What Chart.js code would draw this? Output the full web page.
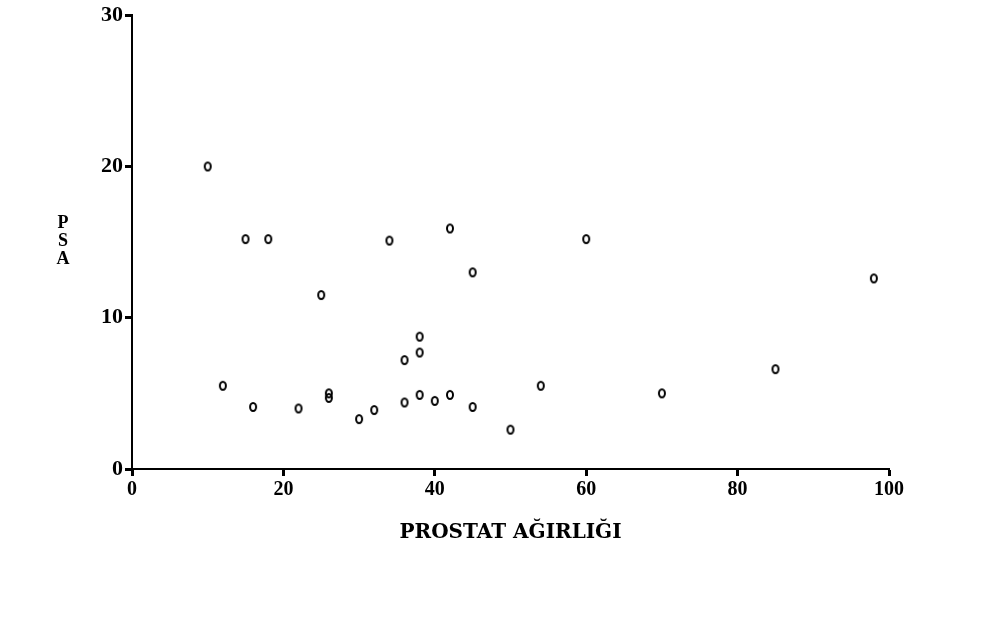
<!DOCTYPE html>
<html>
<head>
<meta charset="utf-8">
<script src="https://cdn.jsdelivr.net/npm/chart.js@4.4.0/dist/chart.umd.min.js"></script>
<style>
html, body { margin: 0; padding: 0; background: #fff; }
canvas { display: block; }
</style>
</head>
<body>
<canvas id="myChart" width="1004" height="622"></canvas>
<script>
// prostate weight (x) and PSA (y)
var prostatWeight = [10, 15, 18, 25, 12, 16, 22, 26, 26, 30, 32, 34, 42, 60, 45, 38, 38, 36, 36, 38, 40, 42, 45, 50, 54, 70, 85, 98];
var psaValues = [20, 15.2, 15.2, 11.5, 5.5, 4.1, 4.0, 5.0, 4.7, 3.3, 3.9, 15.1, 15.9, 15.2, 13.0, 8.75, 7.7, 7.2, 4.4, 4.9, 4.5, 4.9, 4.1, 2.6, 5.5, 5.0, 6.6, 12.6];
var xTicks = [0, 20, 40, 60, 80, 100];
var yTicks = [0, 10, 20, 30];
var yLetters = ['P', 'S', 'A'];

var points = prostatWeight.map(function (x, i) {
    return { x: x, y: psaValues[i] };
});

// small open "o" marker, a bit taller than wide like the printed one
var dot = document.createElement('canvas');
dot.width = 10;
dot.height = 12;
var g = dot.getContext('2d');
g.strokeStyle = '#000';
g.lineWidth = 2;
g.beginPath();
g.ellipse(5, 6, 3, 4, 0, 0, Math.PI * 2);
g.stroke();

var serif = 'Liberation Serif';

// stacked P S A label left of the y axis
var psaLabel = {
    id: 'psaLabel',
    afterDraw: function (chart) {
        var c = chart.ctx, a = chart.chartArea;
        c.save();
        c.font = 'bold 18px "' + serif + '"';
        c.fillStyle = '#000';
        c.textAlign = 'center';
        c.textBaseline = 'middle';
        yLetters.forEach(function (ch, i) {
            c.fillText(ch, a.left - 69, a.top + 208 + i * 18);
        });
        c.restore();
    }
};

var ctx = document.getElementById('myChart').getContext('2d');

var myChart = new Chart(ctx, {
    type: 'scatter',
    data: {
        datasets: [{
            label: 'PSA',
            data: points,
            pointStyle: dot,
            pointRadius: 5,
            showLine: false
        }]
    },
    options: {
        responsive: false,
        animation: false,
        layout: { padding: { top: 13, right: 115, left: 0, bottom: 0 } },
        plugins: {
            legend: { display: false },
            tooltip: { enabled: false }
        },
        scales: {
            x: {
                type: 'linear',
                position: 'bottom',
                min: 0,
                max: 100,
                afterBuildTicks: function (s) {
                    s.ticks = xTicks.map(function (v) { return { value: v }; });
                },
                afterFit: function (s) { s.height = 153; },
                border: { color: '#000', width: 2 },
                grid: { drawOnChartArea: false, tickColor: '#000', tickWidth: 3, tickLength: 7 },
                ticks: {
                    color: '#000',
                    padding: 2,
                    maxRotation: 0,
                    font: { family: serif, size: 20, weight: 'bold' }
                },
                title: {
                    display: true,
                    text: 'PROSTAT AĞIRLIĞI',
                    color: '#000',
                    font: { family: 'DejaVu Serif', size: 20, weight: 'bold' },
                    padding: { top: 0, bottom: 77 }
                }
            },
            y: {
                type: 'linear',
                min: 0,
                max: 30,
                afterBuildTicks: function (s) {
                    s.ticks = yTicks.map(function (v) { return { value: v }; });
                },
                afterFit: function (s) { s.width = 132; },
                border: { color: '#000', width: 2 },
                grid: { drawOnChartArea: false, tickColor: '#000', tickWidth: 3, tickLength: 7 },
                ticks: {
                    color: '#000',
                    padding: 2,
                    font: { family: serif, size: 22, weight: 'bold' }
                }
            }
        }
    },
    plugins: [psaLabel]
});
</script>
</body>
</html>
